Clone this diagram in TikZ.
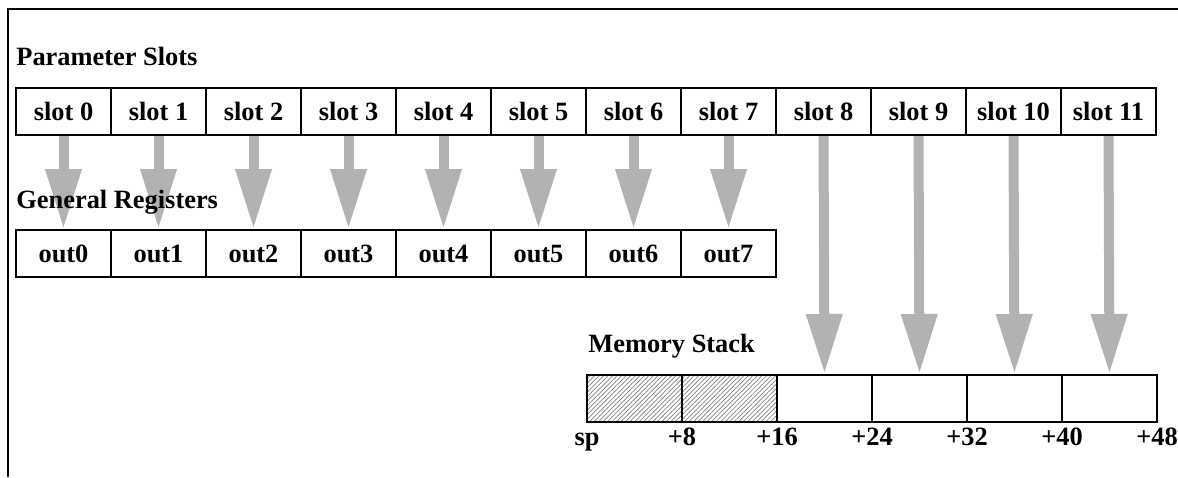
\documentclass[tikz,border=0pt]{standalone}
\usepackage{fontspec}
\setmainfont{Liberation Serif}
\usetikzlibrary{arrows.meta,patterns.meta,backgrounds}

\newcommand{\slotfont}{\bfseries\fontsize{13.2pt}{15pt}\selectfont}

\begin{document}
\begin{tikzpicture}[x = 0.5pt, y = -0.5pt,
        cell/.style = {draw, line width = 1pt, minimum width = 47.5pt, minimum height = 23.5pt, inner sep = 0pt,
            text height = 8.9pt, text depth = 0pt, font = \slotfont},
        hatched/.style = {pattern = {Lines[angle = 45, distance = 1.6pt, line width = 0.35pt]}, pattern color = gray},
        title/.style = {anchor = base west, inner sep = 0pt, font = \slotfont},
        offset/.style = {anchor = base, inner sep = 0pt, font = \slotfont},
        pass/.style = {draw = gray!60, line width = 5pt, -{Triangle[width = 17pt, length = 30pt]}}]
        \useasboundingbox (0, 0) rectangle (1178, 477);
        \draw[line width = 1pt] (8, 477) -- (8, 9) -- (1178, 9);
        % parameter slots and registers
        \foreach \i in {0, ..., 11}
            {\node[cell] (s\i) at (63.5 + 95*\i, 111.5) {slot \i};};
        \foreach \i in {0, ..., 7}
            {\node[cell] (o\i) at (63.5 + 95*\i, 253.5) {out\i};};
        % memory stack
        \foreach \i in {0, 1}
            {\node[cell, hatched] (m\i) at (634.5 + 95*\i, 398.5) {};};
        \foreach \i in {2, ..., 5}
            {\node[cell] (m\i) at (634.5 + 95*\i, 398.5) {};};
        \foreach \k/\t in {0/sp, 1/+8, 2/+16, 3/+24, 4/+32, 5/+40, 6/+48}
            {\node[offset] (d\k) at (587 + 95*\k, 445) {\t};};
        \node[title] (ptitle) at (16, 65) {Parameter Slots};
        \node[title] (gtitle) at (16, 208) {General Registers};
        \node[title] (mtitle) at (588, 352) {Memory Stack};
        % passing arrows
        \begin{scope}[on background layer]
            \foreach \i in {0, ..., 7}
                {\draw[pass] (s\i.south) -- (o\i.north);};
            \foreach \i/\j in {8/2, 9/3, 10/4, 11/5}
                {\draw[pass] (s\i.south) -- (m\j.north);};
        \end{scope}
        \end{tikzpicture}
\end{document}
